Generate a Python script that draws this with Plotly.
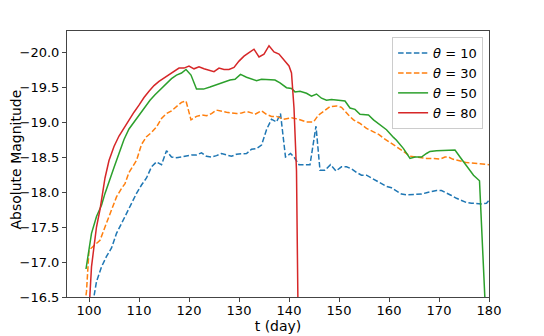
import plotly.graph_objects as go

# theta = 10
days_10 = [100.5, 101.5, 102.5, 103.5, 104.5, 105.5, 106.5, 107.5, 108.5, 109.5,
           110.5, 111.5, 112.5, 113.5, 114.5, 115.5, 116.5, 117.5, 118.5, 119.5,
           120.5, 121.5, 122.5, 123.5, 124.5, 125.5, 126.5, 127.5, 128.5, 129.5,
           130.5, 131.5, 132.5, 133.5, 134.5, 135.5, 136.5, 137.5, 138.3, 139.3,
           140.3, 141.0, 142.0, 143.0, 144.2, 145.4, 146.2, 147.2, 148.3, 149.4,
           150.5, 151.5, 152.5, 153.5, 154.5, 155.5, 156.5, 157.5, 158.5, 159.5,
           160.5, 161.5, 162.5, 163.5, 164.5, 165.5, 166.5, 167.5, 168.5, 169.5,
           170.5, 171.5, 172.5, 173.5, 174.5, 175.5, 176.5, 177.5, 178.5, 179.5,
           180.5]
mag_10 = [-16.30, -16.72, -16.93, -17.08, -17.20, -17.41, -17.55, -17.70, -17.84, -17.98,
          -18.10, -18.20, -18.36, -18.43, -18.39, -18.59, -18.50, -18.49, -18.50, -18.52,
          -18.53, -18.53, -18.56, -18.51, -18.50, -18.52, -18.55, -18.53, -18.51, -18.54,
          -18.55, -18.55, -18.61, -18.62, -18.67, -18.89, -19.04, -19.00, -19.12, -18.50,
          -18.55, -18.50, -18.39, -18.39, -18.39, -18.94, -18.31, -18.31, -18.39, -18.30,
          -18.36, -18.36, -18.33, -18.28, -18.24, -18.24, -18.20, -18.15, -18.12, -18.08,
          -18.06, -18.02, -17.97, -17.96, -17.96, -17.96, -17.97, -17.99, -18.01, -18.02,
          -18.02, -17.99, -17.95, -17.91, -17.88, -17.85, -17.84, -17.83, -17.83, -17.84,
          -17.92]

# theta = 30
days_30 = [99.0, 99.5, 100.0, 100.5, 101.2, 102.2, 103.2, 104.2, 105.5, 106.5,
           107.2, 108.0, 109.5, 110.5, 111.5, 112.5, 113.5, 114.5, 115.5, 116.5,
           117.5, 118.5, 119.4, 120.4, 121.5, 122.5, 123.5, 124.5, 125.5, 126.5,
           127.5, 128.5, 129.5, 130.5, 131.5, 132.5, 133.2, 134.5, 135.5, 136.5,
           137.5, 138.9, 140.5, 141.9, 143.5, 144.9, 145.9, 146.9, 148.2, 149.5,
           150.5, 151.9, 152.9, 154.2, 155.5, 156.9, 158.0, 158.9, 160.0, 160.9,
           162.0, 162.9, 164.2, 165.5, 166.5, 167.5, 169.0, 170.2, 171.2, 171.9,
           172.7, 173.5, 174.5, 175.5, 177.0, 178.2, 180.0]
mag_30 = [-16.30, -16.58, -17.17, -17.20, -17.25, -17.31, -17.50, -17.70, -17.93, -18.05,
          -18.12, -18.28, -18.45, -18.68, -18.79, -18.85, -18.93, -19.05, -19.12, -19.16,
          -19.22, -19.28, -19.30, -19.03, -19.08, -19.10, -19.09, -19.12, -19.17, -19.15,
          -19.14, -19.13, -19.12, -19.13, -19.15, -19.13, -19.11, -19.16, -19.11, -19.08,
          -19.08, -19.04, -19.06, -19.04, -19.00, -19.00, -19.10, -19.15, -19.22, -19.23,
          -19.21, -19.10, -19.03, -18.98, -18.91, -18.86, -18.82, -18.77, -18.72, -18.67,
          -18.62, -18.58, -18.51, -18.50, -18.49, -18.48, -18.48, -18.47, -18.50, -18.50,
          -18.47, -18.46, -18.44, -18.42, -18.41, -18.40, -18.39]

# theta = 50
days_50 = [99.4, 100.5, 101.5, 102.5, 103.2, 104.2, 105.0, 106.0, 107.0, 108.0,
           109.0, 110.0, 111.0, 112.2, 113.2, 114.2, 115.5, 116.5, 117.5, 118.5,
           119.4, 120.4, 121.5, 122.9, 124.2, 125.5, 126.8, 128.2, 129.2, 130.3,
           131.5, 132.5, 133.5, 134.5, 135.8, 137.2, 138.2, 139.5, 140.5, 141.2,
           142.2, 143.5, 144.5, 145.5, 146.5, 147.5, 148.5, 149.8, 151.2, 152.2,
           153.2, 154.2, 155.9, 156.9, 158.2, 159.5, 160.9, 161.5, 162.9, 164.2,
           165.2, 166.5, 167.5, 168.2, 169.5, 171.5, 173.2, 174.2, 175.4, 176.9,
           178.1, 179.0, 180.0]
mag_50 = [-16.90, -17.41, -17.65, -17.81, -17.98, -18.20, -18.35, -18.55, -18.75, -18.90,
          -19.00, -19.10, -19.20, -19.31, -19.39, -19.46, -19.55, -19.62, -19.67, -19.70,
          -19.75, -19.67, -19.47, -19.47, -19.50, -19.53, -19.56, -19.60, -19.61, -19.68,
          -19.64, -19.62, -19.59, -19.61, -19.60, -19.60, -19.56, -19.49, -19.48, -19.43,
          -19.44, -19.41, -19.37, -19.40, -19.34, -19.31, -19.32, -19.31, -19.30, -19.20,
          -19.18, -19.11, -19.10, -19.03, -18.96, -18.89, -18.78, -18.74, -18.62, -18.48,
          -18.50, -18.50, -18.55, -18.58, -18.59, -18.59, -18.60, -18.50, -18.39, -18.24,
          -18.16, -16.80, -15.20]

# theta = 80
days_80 = [100.0, 100.5, 101.0, 101.5, 102.2, 103.2, 104.0, 105.0, 106.0, 107.0,
           108.0, 109.0, 110.0, 111.0, 112.0, 113.0, 114.0, 115.0, 116.0, 117.0,
           118.0, 119.0, 120.0, 121.0, 122.0, 123.0, 124.0, 125.0, 126.0, 127.0,
           128.0, 129.0, 130.0, 131.0, 132.0, 133.0, 134.0, 135.0, 136.0, 137.0,
           138.0, 139.0, 140.0, 140.5, 141.0, 141.5, 142.0]
mag_80 = [-16.30, -16.93, -17.22, -17.50, -17.75, -18.20, -18.45, -18.65, -18.80, -18.92,
          -19.04, -19.14, -19.24, -19.35, -19.44, -19.52, -19.58, -19.63, -19.68, -19.72,
          -19.77, -19.77, -19.80, -19.76, -19.79, -19.76, -19.74, -19.72, -19.77, -19.75,
          -19.75, -19.78, -19.87, -19.94, -19.99, -20.04, -19.93, -19.97, -20.09, -20.00,
          -19.97, -19.88, -19.80, -19.70, -19.20, -18.30, -15.00]

series = [
    ("10", days_10, mag_10, "#1f77b4", "5.5px,2.4px"),
    ("30", days_30, mag_30, "#ff7f0e", "5.5px,2.4px"),
    ("50", days_50, mag_50, "#2ca02c", "solid"),
    ("80", days_80, mag_80, "#d62728", "solid"),
]

y_ticks = [-20.0, -19.5, -19.0, -18.5, -18.0, -17.5, -17.0, -16.5]
x_ticks = [100, 110, 120, 130, 140, 150, 160, 170, 180]

fig = go.Figure()
for theta, x, y, color, dash in series:
    fig.add_trace(go.Scatter(
        x=x, y=y, mode="lines", name=f"<i>θ</i> = {theta}",
        line=dict(color=color, width=1.5, dash=dash),
    ))

axis_style = dict(
    showgrid=False, zeroline=False, showline=True, mirror=True,
    linecolor="#444444", linewidth=1, ticks="outside", ticklen=4,
    tickcolor="#444444", tickfont=dict(size=13, color="black"),
    automargin=False,
)

# page body adds an 8px offset, so margins are shifted to compensate
fig.update_layout(
    width=544, height=336,
    margin=dict(l=59, r=63, t=23, b=47),
    paper_bgcolor="white", plot_bgcolor="white",
    font=dict(family="DejaVu Sans", size=13, color="black"),
    xaxis=dict(range=[95.6, 180], tickvals=x_ticks, ticklabelstandoff=-3,
               title=dict(text="t (day)", font=dict(size=14), standoff=1),
               **axis_style),
    yaxis=dict(range=[-16.5, -20.3], tickvals=y_ticks, tickformat=".1f",
               **axis_style),
    legend=dict(x=0.986, xanchor="right", y=0.977, yanchor="top",
                bgcolor="rgba(255,255,255,0.8)", bordercolor="#cccccc",
                borderwidth=1, font=dict(size=13), tracegroupgap=0),
    showlegend=True,
)

# y title as an annotation so it sits clear of the tick labels
fig.add_annotation(
    text="Absolute Magnitude", xref="paper", yref="paper", x=0, y=0.517,
    xshift=-51, textangle=-90, showarrow=False, font=dict(size=14),
    xanchor="center", yanchor="middle",
)

fig.write_html("out.html")
